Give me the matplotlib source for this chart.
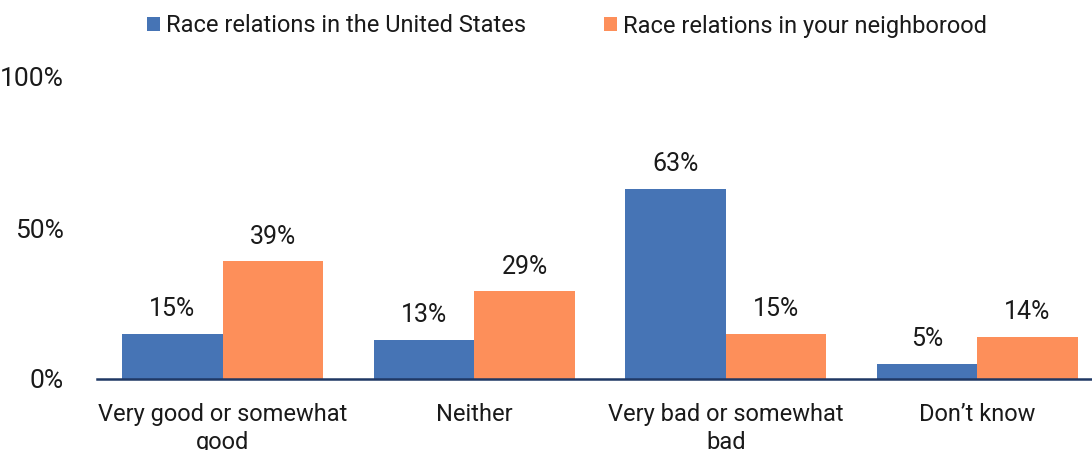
import numpy as np
import matplotlib
matplotlib.use('Agg')
import matplotlib.pyplot as plt

categories = ['Very good or somewhat\ngood', 'Neither', 'Very bad or somewhat\nbad', 'Don\u2019t know']
us_values = [15, 13, 63, 5]
hood_values = [39, 29, 15, 14]
series_names = ['Race relations in the United States', 'Race relations in your neighborood']
colors = ['#4674B5', '#FD8F5A']
y_ticks = [0, 50, 100]

plt.rcParams['font.family'] = ['Roboto', 'DejaVu Sans']

fig = plt.figure(figsize=(10.92, 4.5), dpi=100)
# axes runs past the right edge, like the cropped original
ax = fig.add_axes([97 / 1092, 71 / 450, 1006 / 1092, 302 / 450])

x = np.arange(len(categories))
w = 0.4
b1 = ax.bar(x - w / 2, us_values, w, color=colors[0], label=series_names[0])
b2 = ax.bar(x + w / 2, hood_values, w, color=colors[1], label=series_names[1])

for bars, vals in [(b1, us_values), (b2, hood_values)]:
    for bar, v in zip(bars, vals):
        ax.annotate(f'{v}%', (bar.get_x() + bar.get_width() / 2, v),
                    xytext=(0, 9), textcoords='offset points',
                    ha='center', va='bottom', fontsize=18, color='#1a1a1a')

ax.set_xlim(-0.5, len(categories) - 0.5)
ax.set_ylim(0, 100)
ax.set_yticks(y_ticks)
ax.set_yticklabels([f'{t}%' for t in y_ticks])
ax.set_xticks(x)
ax.set_xticklabels(categories, linespacing=1.3)
ax.tick_params(axis='y', length=0, pad=24, labelsize=19, labelcolor='#1a1a1a')
ax.tick_params(axis='x', length=0, pad=17, labelsize=17, labelcolor='#1a1a1a')

for s in ['top', 'right', 'left']:
    ax.spines[s].set_visible(False)
ax.spines['bottom'].set_color('#1F3864')
ax.spines['bottom'].set_linewidth(1.8)

fig.legend(handles=[b1, b2], labels=series_names, loc='upper center',
           bbox_to_anchor=(567 / 1092, 1.015), ncol=2, frameon=False,
           fontsize=17, handlelength=0.55, handleheight=0.55, handletextpad=0.25,
           columnspacing=3.3, labelcolor='#1a1a1a')

plt.savefig('out.png', dpi=100)
